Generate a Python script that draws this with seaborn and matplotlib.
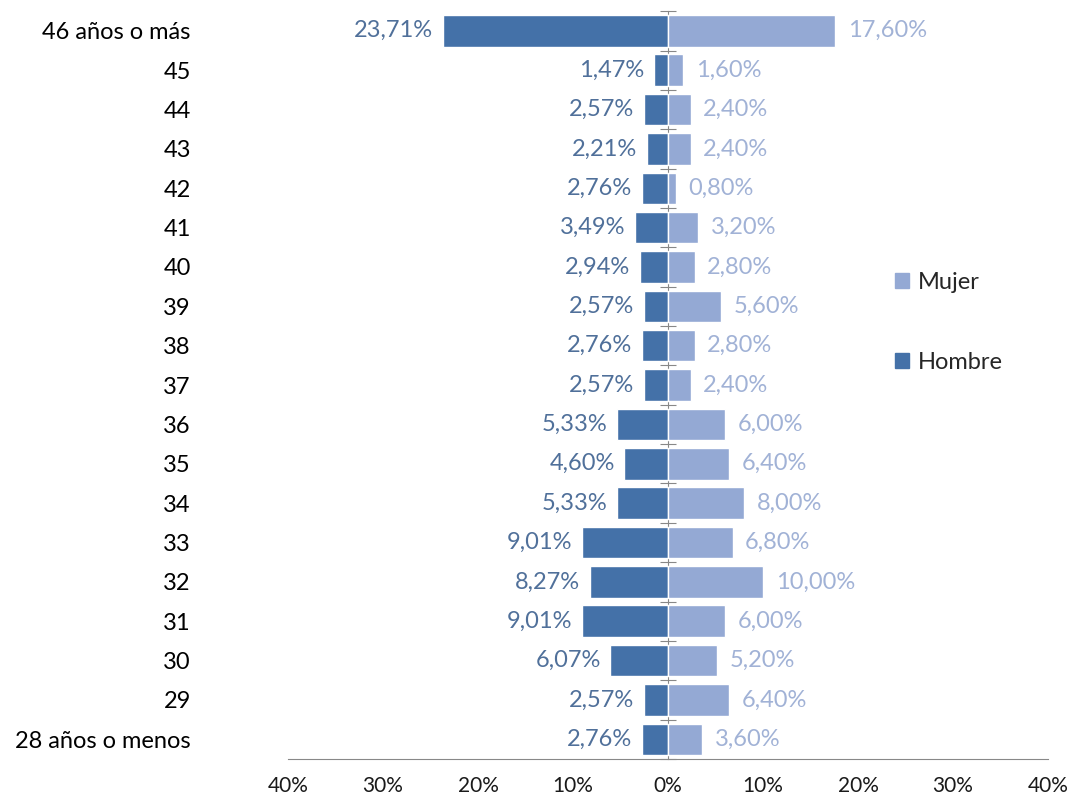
import pandas as pd
import seaborn as sns
import matplotlib.pyplot as plt

edades = ['46 años o más', '45', '44', '43', '42', '41', '40', '39', '38', '37',
          '36', '35', '34', '33', '32', '31', '30', '29', '28 años o menos']
hombre = [23.71, 1.47, 2.57, 2.21, 2.76, 3.49, 2.94, 2.57, 2.76, 2.57,
          5.33, 4.60, 5.33, 9.01, 8.27, 9.01, 6.07, 2.57, 2.76]
mujer = [17.60, 1.60, 2.40, 2.40, 0.80, 3.20, 2.80, 5.60, 2.80, 2.40,
         6.00, 6.40, 8.00, 6.80, 10.00, 6.00, 5.20, 6.40, 3.60]
x_ticks = [-40, -30, -20, -10, 0, 10, 20, 30, 40]
x_labels = ['40%', '30%', '20%', '10%', '0%', '10%', '20%', '30%', '40%']

c_hombre = '#4471A8'
c_mujer = '#94A9D4'

df = pd.DataFrame({
    'edad': edades * 2,
    'valor': [-v for v in hombre] + mujer,
    'sexo': ['Hombre'] * len(edades) + ['Mujer'] * len(edades),
})

sns.set_style('white')
plt.rcParams['font.family'] = ['Lato', 'DejaVu Sans']

fig = plt.figure(figsize=(10.72, 7.96), dpi=100)
ax = fig.add_axes([0.2687, 0.0465, 0.709, 0.9395])

sns.barplot(data=df, x='valor', y='edad', hue='sexo', order=edades,
            hue_order=['Hombre', 'Mujer'], palette=[c_hombre, c_mujer],
            saturation=1, dodge=False, width=0.8, orient='h', ax=ax,
            legend=False)

def fmt(v):
    return f"{v:.2f}".replace('.', ',') + '%'

ax.bar_label(ax.containers[0], labels=[fmt(v) for v in hombre], padding=7,
             color='#50709A', fontsize=17)
ax.bar_label(ax.containers[1], labels=[fmt(v) for v in mujer], padding=9,
             color='#A1B2D6', fontsize=17)

ax.set_xlim(-40, 40)
ax.set_ylim(len(edades) - 0.5, -0.5)
ax.set_xticks(x_ticks)
ax.set_xticklabels(x_labels, fontsize=15, color='#1a1a1a')
ax.tick_params(axis='x', direction='in', length=8, color='#888888', pad=12)
ax.tick_params(axis='y', length=0, pad=70, labelsize=17, labelcolor='#000000')
for lbl in ax.get_yticklabels():
    lbl.set_horizontalalignment('right')
ax.set_xlabel('')
ax.set_ylabel('')

for s in ['left', 'right', 'top']:
    ax.spines[s].set_visible(False)
ax.spines['bottom'].set_color('#888888')

# eje central con marcas entre categorias
sec = ax.secondary_yaxis(0.5)
sec.set_yticks([i - 0.5 for i in range(len(edades) + 1)])
sec.set_yticklabels([])
sec.tick_params(direction='inout', length=12, color='#888888')
sec.spines['right'].set_color('#888888')
sec.spines['left'].set_color('#888888')

handles = [plt.Rectangle((0, 0), 1, 1, color=c_mujer),
           plt.Rectangle((0, 0), 1, 1, color=c_hombre)]
ax.legend(handles, ['Mujer', 'Hombre'], loc='upper left',
          bbox_to_anchor=(0.77, 0.68), frameon=False, fontsize=17,
          handlelength=0.6, handleheight=0.6, handletextpad=0.4,
          labelspacing=2.5)

fig.savefig('out.png', dpi=100)
